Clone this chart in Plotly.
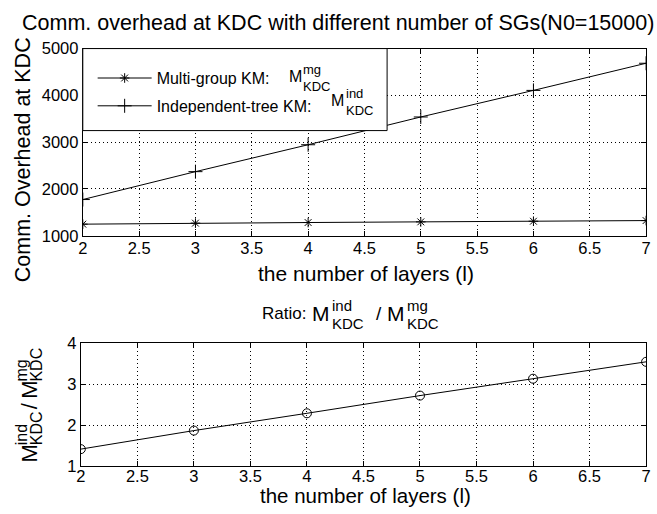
import plotly.graph_objects as go

# ---------------- data ----------------
layers = [2, 3, 4, 5, 6, 7]
mg_kdc = [1248, 1270, 1283, 1297, 1311, 1325]          # Multi-group KM
ind_kdc = [1774, 2370, 2945, 3538, 4106, 4686]         # Independent-tree KM
ratio = [1.42, 1.87, 2.29, 2.72, 3.13, 3.54]           # ind / mg

x_ticks = [2, 2.5, 3, 3.5, 4, 4.5, 5, 5.5, 6, 6.5, 7]
x_ticklabels = ["2", "2.5", "3", "3.5", "4", "4.5", "5", "5.5", "6", "6.5", "7"]
y1_ticks = [1000, 2000, 3000, 4000, 5000]
y1_ticklabels = ["1000", "2000", "3000", "4000", "5000"]
y2_ticks = [1, 2, 3, 4]
y2_ticklabels = ["1", "2", "3", "4"]

# ---------------- layout helpers ----------------
W, H = 657, 514
FONT = "Liberation Sans, Arial, sans-serif"


def px(x):
    return x / W


def py(y):
    return 1 - y / H


fig = go.Figure()

fig.add_trace(go.Scatter(
    x=layers, y=mg_kdc, mode="lines+markers", name="Multi-group KM:",
    legendgroup="a",
    line=dict(color="black", width=1),
    marker=dict(symbol="asterisk-open", size=8, color="black",
                line=dict(color="black", width=1)),
    xaxis="x", yaxis="y"))

fig.add_trace(go.Scatter(
    x=layers, y=ind_kdc, mode="lines+markers", name="Independent-tree KM:",
    legendgroup="b",
    line=dict(color="black", width=1),
    marker=dict(symbol="cross-thin-open", size=10, color="black",
                line=dict(color="black", width=1)),
    xaxis="x", yaxis="y"))

fig.add_trace(go.Scatter(
    x=layers, y=ratio, mode="lines+markers", showlegend=False,
    line=dict(color="black", width=1),
    marker=dict(symbol="circle-open", size=9, color="black",
                line=dict(color="black", width=1)),
    xaxis="x2", yaxis="y2"))

axis_common = dict(
    showline=True, linecolor="black", linewidth=1, mirror="ticks",
    ticks="inside", ticklen=5, tickcolor="black", tickwidth=1,
    showgrid=True, gridcolor="black", gridwidth=1, griddash="1px,3px",
    zeroline=False, tickfont=dict(family=FONT, size=16.5, color="black"),
    tickmode="array",
)

fig.update_layout(
    width=W, height=H,
    margin=dict(l=0, r=0, t=0, b=0),
    paper_bgcolor="white", plot_bgcolor="white",
    font=dict(family=FONT, color="black"),
    xaxis=dict(domain=[px(79), px(651)], range=[2, 7], anchor="y",
               tickvals=x_ticks, ticktext=x_ticklabels,
               ticklabelstandoff=-3, **axis_common),
    yaxis=dict(domain=[py(235), py(41)], range=[1000, 5000], anchor="x",
               tickvals=y1_ticks, ticktext=y1_ticklabels, **axis_common),
    xaxis2=dict(domain=[px(77), px(651)], range=[2, 7], anchor="y2",
                tickvals=x_ticks, ticktext=x_ticklabels,
                ticklabelstandoff=-5, **axis_common),
    yaxis2=dict(domain=[py(474), py(346)], range=[1, 4], anchor="x2",
                tickvals=y2_ticks, ticktext=y2_ticklabels, **axis_common),
    showlegend=True,
    legend=dict(x=px(89), y=py(54), xanchor="left", yanchor="top",
                bgcolor="rgba(0,0,0,0)", borderwidth=0,
                font=dict(family=FONT, size=16, color="black"),
                tracegroupgap=4, itemwidth=54),
)

# legend box
fig.add_shape(type="rect", xref="paper", yref="paper",
              x0=px(79), x1=px(388), y0=py(126), y1=py(41),
              fillcolor="white", line=dict(color="black", width=1),
              layer="above")

ann = []


def text(t, x, y, size, xanchor="center", angle=0):
    ann.append(dict(text=t, x=px(x), y=py(y), xref="paper", yref="paper",
                    xanchor=xanchor, yanchor="middle", showarrow=False,
                    textangle=angle,
                    font=dict(family=FONT, size=size, color="black")))


# titles
text("Comm. overhead at KDC with different number of SGs(N0=15000)", 338, 15, 21.5)
text("the number of layers (l)", 367, 274, 21)
text("Comm. Overhead at KDC", 18, 156, 21.5, angle=-90)
text("the number of layers (l)", 366, 504, 20.5)

# legend math labels
text("M", 286, 70, 16, "left")
text("mg", 301, 63, 13, "left")
text("KDC", 301, 80, 13, "left")
text("M", 329, 95, 16, "left")
text("ind", 344, 88, 13, "left")
text("KDC", 344, 105, 13, "left")

# bottom title: Ratio: M^ind_KDC / M^mg_KDC
text("Ratio:", 308, 316, 17, "right")
text("M", 310, 316, 21, "left")
text("ind", 330, 307, 15, "left")
text("KDC", 330, 326, 15, "left")
text("/", 380, 316, 19, "center")
text("M", 386, 316, 21, "left")
text("mg", 406, 307, 15, "left")
text("KDC", 406, 326, 15, "left")

# bottom y label (rotated)
text("M", 25, 461, 22, angle=-90)
text("ind", 17, 441, 16, angle=-90)
text("KDC", 32, 435, 16, angle=-90)
text("/", 25, 411, 22, angle=-90)
text("M", 25, 395, 22, angle=-90)
text("mg", 17, 375, 16, angle=-90)
text("KDC", 32, 369, 16, angle=-90)

fig.update_layout(annotations=ann)

fig.write_html("out.html")
